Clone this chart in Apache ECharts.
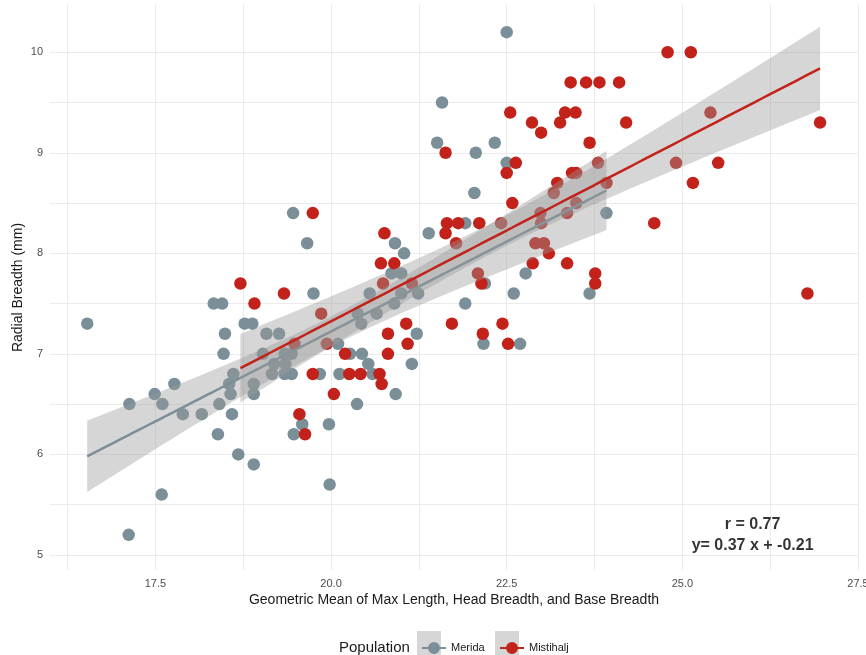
<!DOCTYPE html>
<html>
<head>
<meta charset="utf-8">
<script src="https://cdn.jsdelivr.net/npm/echarts@6/dist/echarts.min.js"></script>
<style>
	html, body { margin: 0; padding: 0; background: #fff; }
	#chart { width: 866px; height: 655px; }
</style>
</head>
<body>
<div id="chart"></div>
<script>
// Merida (gray)
var meridaX = [16.53, 17.13, 17.12, 17.49, 17.60, 17.59, 17.77, 17.89, 18.16, 18.33,
	18.45, 18.49, 18.47, 18.61, 18.55, 18.57, 18.41, 18.59, 18.39, 18.68,
	18.90, 18.77, 18.88, 18.90, 18.90, 19.46, 19.66, 19.75, 19.08, 19.26,
	20.10, 19.03, 19.34, 19.44, 19.19, 19.35, 20.27, 20.44, 20.53, 19.16,
	19.34, 19.44, 19.84, 20.12, 20.59, 20.55, 20.38, 20.43, 20.65, 20.90,
	21.22, 21.15, 20.92, 20.37, 19.97, 19.59, 19.47, 19.98, 22.50, 21.58,
	21.51, 22.06, 22.33, 22.50, 22.04, 21.91, 21.39, 20.91, 21.04, 20.86,
	21.00, 21.24, 21.00, 22.19, 22.60, 22.77, 23.68, 23.92, 22.17, 22.69,
	21.91];
var meridaY = [7.3, 6.5, 5.2, 6.6, 6.5, 5.6, 6.7, 6.4, 6.4, 7.5,
	7.5, 7.2, 7.0, 6.8, 6.7, 6.6, 6.5, 6.4, 6.2, 6.0,
	5.9, 7.3, 7.3, 6.7, 6.6, 8.4, 8.1, 7.6, 7.2, 7.2,
	7.1, 7.0, 7.0, 7.0, 6.9, 6.9, 7.0, 7.0, 6.9, 6.8,
	6.8, 6.8, 6.8, 6.8, 6.8, 7.6, 7.4, 7.3, 7.4, 7.5,
	7.2, 6.9, 6.6, 6.5, 6.3, 6.3, 6.2, 5.7, 10.2, 9.5,
	9.1, 9.0, 9.1, 8.9, 8.6, 8.3, 8.2, 8.1, 8.0, 7.8,
	7.8, 7.6, 7.6, 7.7, 7.6, 7.8, 7.6, 8.4, 7.1, 7.1,
	7.5];

// Mistihalj (red)
var mistihaljX = [18.71, 18.91, 19.74, 19.33, 19.86, 19.48, 19.94, 20.20, 19.74, 20.26,
	20.42, 20.69, 20.72, 20.04, 20.76, 20.71, 20.90, 20.74, 21.07, 21.09,
	20.81, 20.81, 19.55, 19.63, 21.72, 22.55, 22.86, 22.99, 23.33, 23.48,
	23.26, 21.63, 22.63, 22.50, 22.58, 23.43, 23.49, 23.22, 23.17, 21.65,
	21.63, 21.81, 22.11, 22.42, 21.78, 21.15, 22.09, 22.14, 22.87, 23.36,
	22.91, 23.03, 23.10, 22.98, 22.99, 23.41, 23.63, 23.82, 24.10, 24.20,
	23.68, 23.80, 23.92, 23.36, 24.60, 23.76, 23.76, 24.79, 25.12, 25.40,
	24.91, 25.51, 25.15, 26.96, 26.78, 22.16, 22.44, 22.52, 23.49];
var mistihaljY = [7.7, 7.5, 8.4, 7.6, 7.4, 7.1, 7.1, 7.0, 6.8, 6.8,
	6.8, 6.8, 6.7, 6.6, 8.2, 7.9, 7.9, 7.7, 7.3, 7.1,
	7.2, 7.0, 6.4, 6.2, 7.3, 9.4, 9.3, 9.2, 9.4, 9.4,
	9.3, 9.0, 8.9, 8.8, 8.5, 8.8, 8.8, 8.7, 8.6, 8.3,
	8.2, 8.3, 8.3, 8.3, 8.1, 7.7, 7.8, 7.7, 7.9, 7.9,
	8.1, 8.1, 8.0, 8.4, 8.3, 9.7, 9.7, 9.7, 9.7, 9.3,
	9.1, 8.9, 8.7, 8.4, 8.3, 7.8, 7.7, 10.0, 10.0, 9.4,
	8.9, 8.9, 8.7, 9.3, 7.6, 7.2, 7.3, 7.1, 8.5];

var xLabels = [17.5, 20, 22.5, 25, 27.5];
var xGrid = [16.25, 17.5, 18.75, 20, 21.25, 22.5, 23.75, 25, 26.25, 27.5];
var yLabels = [5, 6, 7, 8, 9, 10];
var yGrid = [5, 5.5, 6, 6.5, 7, 7.5, 8, 8.5, 9, 9.5, 10];
var statText = 'r = 0.77\ny= 0.37 x + -0.21';

var grayColor = '#7b8f98';
var redColor = '#c2221a';
var font = 'Liberation Sans, Arial, sans-serif';

function pairs(xs, ys) {
	var out = [];
	for (var i = 0; i < xs.length; i++) out.push([xs[i], ys[i]]);
	return out;
}

// t quantile (0.975) approximation
function tq975(df) {
	var z = 1.959964;
	return z + (z * z * z + z) / (4 * df) + (5 * Math.pow(z, 5) + 16 * z * z * z + 3 * z) / (96 * df * df);
}

// lm fit + 95% confidence band, like geom_smooth(method = 'lm')
function lmFit(xs, ys) {
	var n = xs.length, mx = 0, my = 0;
	for (var i = 0; i < n; i++) { mx += xs[i]; my += ys[i]; }
	mx /= n; my /= n;
	var sxx = 0, sxy = 0;
	for (i = 0; i < n; i++) {
		sxx += (xs[i] - mx) * (xs[i] - mx);
		sxy += (xs[i] - mx) * (ys[i] - my);
	}
	var b = sxy / sxx, a = my - b * mx, sse = 0;
	for (i = 0; i < n; i++) {
		var r = ys[i] - (a + b * xs[i]);
		sse += r * r;
	}
	var s = Math.sqrt(sse / (n - 2)), t = tq975(n - 2);
	var x0 = Math.min.apply(null, xs), x1 = Math.max.apply(null, xs);
	var line = [], band = [];
	for (i = 0; i < 80; i++) {
		var x = x0 + (x1 - x0) * i / 79;
		var yh = a + b * x;
		var se = s * Math.sqrt(1 / n + (x - mx) * (x - mx) / sxx);
		line.push([x, yh]);
		band.push([x, yh - t * se, yh + t * se]);
	}
	return { line: line, band: band };
}

function bandSeries(band, z) {
	return {
		type: 'custom',
		silent: true,
		z: z,
		data: band,
		encode: { x: 0, y: [1, 2] },
		renderItem: function(params, api) {
			if (params.dataIndex !== 0) return;
			var pts = [];
			for (var i = 0; i < band.length; i++) pts.push(api.coord([band[i][0], band[i][2]]));
			for (i = band.length - 1; i >= 0; i--) pts.push(api.coord([band[i][0], band[i][1]]));
			return {
				type: 'polygon',
				shape: { points: pts },
				style: { fill: 'rgba(153,153,153,0.4)' }
			};
		}
	};
}

var fitM = lmFit(meridaX, meridaY);
var fitR = lmFit(mistihaljX, mistihaljY);

var iconPath = 'path://M0,5L6.1,5L6.1,7L0,7Z M17.9,5L24,5L24,7L17.9,7Z M18,6A6,6,0,1,1,6,6A6,6,0,1,1,18,6Z';

var myChart = echarts.init(document.getElementById('chart'));
var option = {
	animation: false,
	textStyle: { fontFamily: font },
	grid: { left: 50, right: 8, top: 5, bottom: 85, outerBoundsMode: 'none' },
	title: {
		text: 'Population',
		left: 334,
		top: 635,
		textStyle: { fontFamily: font, fontSize: 15, fontWeight: 'normal', color: '#1a1a1a' }
	},
	legend: [{
		data: ['Merida'],
		left: 417,
		top: 637,
		itemWidth: 24,
		itemHeight: 12,
		itemGap: 4,
		icon: iconPath,
		textStyle: { fontSize: 11, color: '#1a1a1a' }
	}, {
		data: ['Mistihalj'],
		left: 495,
		top: 637,
		itemWidth: 24,
		itemHeight: 12,
		icon: iconPath,
		textStyle: { fontSize: 11, color: '#1a1a1a' }
	}],
	graphic: [
		{ type: 'rect', left: 417, top: 631, shape: { width: 24, height: 24 }, style: { fill: '#d6d6d6' }, z: 0 },
		{ type: 'rect', left: 495, top: 631, shape: { width: 24, height: 24 }, style: { fill: '#d6d6d6' }, z: 0 }
	],
	xAxis: {
		type: 'value',
		min: 16.0,
		max: 27.5,
		name: 'Geometric Mean of Max Length, Head Breadth, and Base Breadth',
		nameLocation: 'middle',
		nameGap: 23,
		nameMoveOverlap: false,
		nameTextStyle: { fontSize: 14, color: '#1a1a1a' },
		axisLine: { show: false },
		axisTick: { show: false, customValues: xGrid },
		axisLabel: {
			customValues: xLabels,
			margin: 8,
			fontSize: 11,
			color: '#4d4d4d',
			formatter: function(v) { return v.toFixed(1); }
		},
		splitLine: { show: true, lineStyle: { color: '#ebebeb', width: 1 } }
	},
	yAxis: {
		type: 'value',
		min: 4.85,
		max: 10.47,
		name: 'Radial Breadth (mm)',
		nameLocation: 'middle',
		nameGap: 25,
		nameMoveOverlap: false,
		nameTextStyle: { fontSize: 14, color: '#1a1a1a' },
		axisLine: { show: false },
		axisTick: { show: false, customValues: yGrid },
		axisLabel: {
			customValues: yLabels,
			margin: 7,
			fontSize: 11,
			color: '#4d4d4d'
		},
		splitLine: { show: true, lineStyle: { color: '#ebebeb', width: 1 } }
	},
	series: [{
			name: 'Merida',
			type: 'scatter',
			z: 2,
			symbolSize: 12.5,
			itemStyle: { color: grayColor, opacity: 1 },
			data: pairs(meridaX, meridaY)
		},
		{
			name: 'Mistihalj',
			type: 'scatter',
			z: 2,
			symbolSize: 12.5,
			itemStyle: { color: redColor, opacity: 1 },
			data: pairs(mistihaljX, mistihaljY)
		},
		bandSeries(fitM.band, 3),
		{
			type: 'line',
			z: 4,
			silent: true,
			showSymbol: false,
			lineStyle: { color: grayColor, width: 2.5 },
			data: fitM.line
		},
		bandSeries(fitR.band, 5),
		{
			type: 'line',
			z: 6,
			silent: true,
			showSymbol: false,
			lineStyle: { color: redColor, width: 2.5 },
			data: fitR.line
		},
		{
			// r / equation annotation
			type: 'scatter',
			z: 7,
			silent: true,
			symbolSize: 0,
			data: [[26.0, 5.2]],
			label: {
				show: true,
				position: 'inside',
				formatter: statText,
				fontFamily: font,
				fontSize: 16,
				fontWeight: 'bold',
				lineHeight: 21,
				color: '#000'
			}
		}
	]
};
myChart.setOption(option);
</script>
</body>
</html>
